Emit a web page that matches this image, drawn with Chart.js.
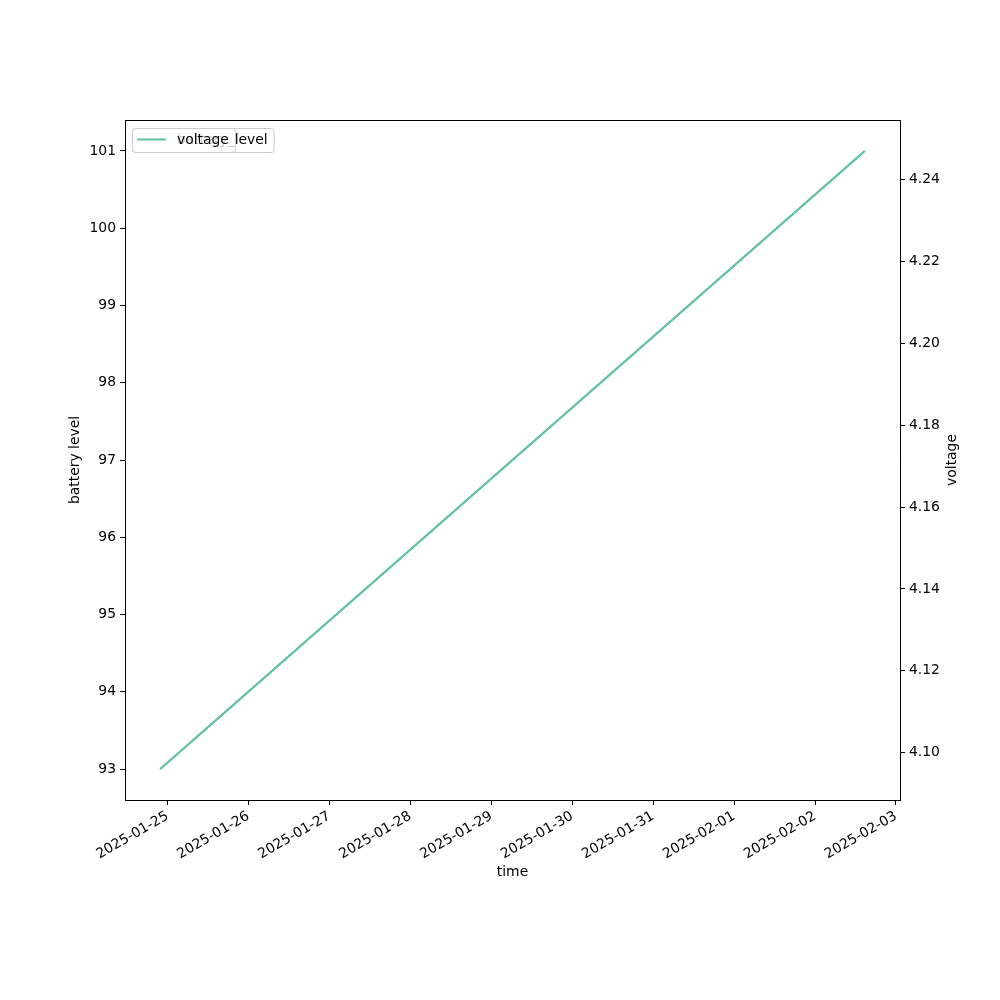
<!DOCTYPE html>
<html>
<head>
<meta charset="utf-8">
<script src="https://cdn.jsdelivr.net/npm/chart.js@4"></script>
<style>body{margin:0;background:#fff}</style>
</head>
<body>
<canvas id="chart" width="1000" height="1000"></canvas>
<script>
// data
var times = ['2025-01-24T21:50:00Z', '2025-02-02T14:45:00Z'];
var batteryLevel = [93, 101];
var voltage = [4.096, 4.247];
var dayTicks = ['2025-01-25', '2025-01-26', '2025-01-27', '2025-01-28', '2025-01-29',
                '2025-01-30', '2025-01-31', '2025-02-01', '2025-02-02', '2025-02-03'];
var seriesNames = ['battery_level', 'voltage'];
var rightTitle = 'voltage';

var lineColor = '#66c2a5';
var FONT = {family: 'DejaVu Sans', size: 13.9};

Chart.defaults.color = '#000';
Chart.defaults.font.family = FONT.family;
Chart.defaults.font.size = FONT.size;

var xs = times.map(function (t) { return Date.parse(t); });

// matplotlib style 5% margins
var padRange = function (vals) {
    var lo = Math.min.apply(null, vals), hi = Math.max.apply(null, vals);
    var m = (hi - lo) * 0.05;
    return {min: lo - m, max: hi + m};
};
var xr = padRange(xs), yl = padRange(batteryLevel), yr = padRange(voltage);

var toPoints = function (vals) {
    return vals.map(function (v, i) { return {x: xs[i], y: v}; });
};

var axisGrid = {drawOnChartArea: false, drawTicks: true, tickLength: 5, color: '#000', lineWidth: 1};
var axisBorder = {display: true, color: '#000', width: 1};

// box round the plot, right axis title (bottom-to-top like matplotlib)
// and the two stacked legends (second one drawn on top of the first)
var framePlugin = {
    id: 'frame',
    afterDraw: function (chart) {
        var ctx = chart.ctx, a = chart.chartArea;
        ctx.save();
        ctx.strokeStyle = '#000';
        ctx.lineWidth = 1;
        ctx.beginPath();
        ctx.moveTo(Math.round(a.left) + 0.5, Math.round(a.top) + 0.5);
        ctx.lineTo(Math.round(a.right) + 0.5, Math.round(a.top) + 0.5);
        ctx.stroke();

        ctx.font = FONT.size + 'px ' + FONT.family;
        ctx.fillStyle = '#000';
        ctx.textAlign = 'center';
        ctx.textBaseline = 'middle';
        ctx.save();
        ctx.translate(a.right + 52, (a.top + a.bottom) / 2);
        ctx.rotate(-Math.PI / 2);
        ctx.fillText(rightTitle, 0, 0);
        ctx.restore();

        ctx.textAlign = 'left';
        seriesNames.forEach(function (name) {
            var x = a.left + 7, y = a.top + 8, h = 24;
            var w = 45 + ctx.measureText(name).width + 6;
            ctx.beginPath();
            ctx.roundRect(x + 0.5, y + 0.5, w, h, 3);
            ctx.fillStyle = 'rgba(255,255,255,0.8)';
            ctx.fill();
            ctx.strokeStyle = '#cccccc';
            ctx.stroke();
            ctx.beginPath();
            ctx.moveTo(x + 5, y + 11.5);
            ctx.lineTo(x + 34, y + 11.5);
            ctx.strokeStyle = lineColor;
            ctx.lineWidth = 2;
            ctx.stroke();
            ctx.lineWidth = 1;
            ctx.fillStyle = '#000';
            ctx.fillText(name, x + 45, y + 12);
        });
        ctx.restore();
    }
};

var ctx = document.getElementById('chart');
var myChart = new Chart(ctx, {
    type: 'line',
    data: {
        datasets: [{
            label: seriesNames[0],
            data: toPoints(batteryLevel),
            yAxisID: 'yLeft',
            borderColor: lineColor,
            borderWidth: 2,
            pointRadius: 0,
            tension: 0
        }, {
            label: seriesNames[1],
            data: toPoints(voltage),
            yAxisID: 'yRight',
            borderColor: lineColor,
            borderWidth: 2,
            pointRadius: 0,
            tension: 0
        }]
    },
    options: {
        responsive: false,
        animation: false,
        layout: {padding: {top: 120, left: 0, right: 0, bottom: 0}},
        plugins: {legend: {display: false}, tooltip: {enabled: false}},
        scales: {
            x: {
                type: 'linear',
                position: 'bottom',
                min: xr.min,
                max: xr.max,
                grid: axisGrid,
                border: axisBorder,
                afterBuildTicks: function (scale) {
                    scale.ticks = dayTicks.map(function (d) { return {value: Date.parse(d + 'T00:00:00Z')}; });
                },
                afterFit: function (scale) { scale.height = 200; },
                ticks: {
                    autoSkip: false,
                    maxRotation: 30,
                    minRotation: 30,
                    padding: 3,
                    callback: function (v) { return new Date(v).toISOString().slice(0, 10); }
                },
                title: {display: true, text: 'time', padding: {top: 0, bottom: 119}}
            },
            yLeft: {
                type: 'linear',
                position: 'left',
                min: yl.min,
                max: yl.max,
                grid: axisGrid,
                border: axisBorder,
                afterFit: function (scale) { scale.width = 125; },
                ticks: {stepSize: 1, includeBounds: false, padding: 4},
                title: {display: true, text: 'battery level', padding: {top: 67, bottom: 0}}
            },
            yRight: {
                type: 'linear',
                position: 'right',
                min: yr.min,
                max: yr.max,
                grid: axisGrid,
                border: axisBorder,
                afterFit: function (scale) { scale.width = 100; },
                ticks: {
                    stepSize: 0.02,
                    includeBounds: false,
                    padding: 4,
                    callback: function (v) { return v.toFixed(2); }
                },
                title: {display: false}
            }
        }
    },
    plugins: [framePlugin]
});
</script>
</body>
</html>
